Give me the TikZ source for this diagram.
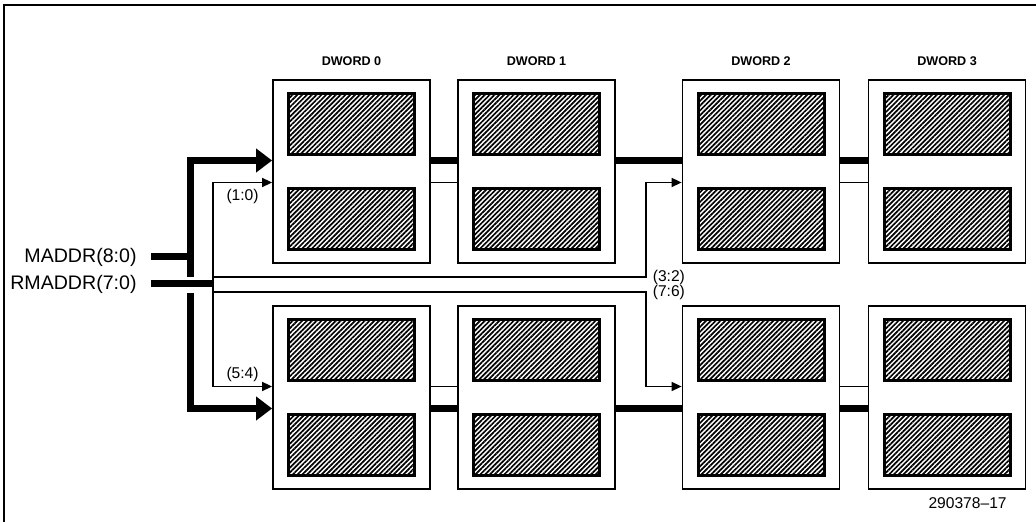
\documentclass[tikz,border=0pt]{standalone}
\usepackage{fontspec}
\setmainfont{Liberation Sans}
\usetikzlibrary{arrows.meta,positioning,patterns.meta}
\tikzset{
 dwordbox/.style={
 rectangle,
 draw,
 line width=0.9pt,
 minimum width=78.5pt,
 minimum height=91.5pt,
 inner sep=0pt
 },
 hatchbox/.style={
 rectangle,
 draw,
 line width=1.5pt,
 minimum width=63pt,
 minimum height=30.5pt,
 inner sep=0pt,
 pattern={Lines[angle=45,distance=1.7pt,line width=0.85pt]}
 },
 colhead/.style={font=\fontsize{6.3}{7}\selectfont\bfseries, inner sep=0pt},
 buslabel/.style={font=\fontsize{9.8}{11}\selectfont, anchor=east, inner sep=0pt, inner xsep=7pt},
 bitlabel/.style={font=\fontsize{7.8}{9}\selectfont, inner sep=1pt},
 busline/.style={line width=3.5pt},
 busarrow/.style={-{Triangle[length=8pt,width=11.5pt]}, line width=3.5pt},
 sigline/.style={line width=0.8pt},
 sigarrow/.style={-{Triangle[length=5pt,width=4.5pt]}, line width=0.8pt}
}
\begin{document}
\begin{tikzpicture}[x=0.5pt,y=-0.5pt]
 \useasboundingbox (0,0) rectangle (1036,522);
 \draw[line width=0.8pt] (4,522) -- (4,5) -- (1036,5);

 % memory blocks
 \foreach \i/\x in {0/351.5,1/536.5,2/761,3/947}{
 \node[dwordbox] (t\i) at (\x,171.5) {};
 \node[dwordbox] (b\i) at (\x,397.5) {};
 \node[hatchbox] (t\i-hi) at ([yshift=23.75pt]t\i.center) {};
 \node[hatchbox] (t\i-lo) at ([yshift=-23.75pt]t\i.center) {};
 \node[hatchbox] (b\i-hi) at ([yshift=23.75pt]b\i.center) {};
 \node[hatchbox] (b\i-lo) at ([yshift=-23.75pt]b\i.center) {};
 \node[colhead, above=6.5pt of t\i] (h\i) {DWORD \i};
 }

 \node[buslabel] (maddr) at (151,257) {MADDR(8:0)};
 \node[buslabel] (rmaddr) at (151,284) {RMADDR(7:0)};
 \coordinate (mtop) at (190,277);
 \coordinate (mbot) at (190,293);
 \coordinate (rj) at (213,284);
 \coordinate (c32) at (646,277);
 \coordinate (c76) at (646,292);

 \draw[busline] (maddr.east) -- (maddr.east -| mtop);
 \draw[busline] (rmaddr.east) -- (rj);
 \draw[busarrow] (mtop) |- ([yshift=5.5pt]t0.west);
 \draw[busarrow] (mbot) |- ([yshift=-5.5pt]b0.west);

 \draw[sigarrow] (rj) |- ([yshift=-5.5pt]t0.west) node[bitlabel, pos=0.75, below=2pt] (l10) {(1:0)};
 \draw[sigarrow] (rj) |- ([yshift=5.5pt]b0.west) node[bitlabel, pos=0.75, above=1pt] (l54) {(5:4)};
 \draw[sigarrow] (rj |- c32) -- (c32) node[bitlabel, right=2pt] (l32) {(3:2)} |- ([yshift=-5.5pt]t2.west);
 \draw[sigarrow] (rj |- c76) -- (c76) node[bitlabel, right=2pt] (l76) {(7:6)} |- ([yshift=5.5pt]b2.west);

 % links between blocks
 \foreach \a/\b in {0/1,1/2,2/3}{
 \draw[busline] ([yshift=5.5pt]t\a.east) -- ([yshift=5.5pt]t\b.west);
 \draw[busline] ([yshift=-5.5pt]b\a.east) -- ([yshift=-5.5pt]b\b.west);
 }
 \foreach \a/\b in {0/1,2/3}{
 \draw[sigline] ([yshift=-5.5pt]t\a.east) -- ([yshift=-5.5pt]t\b.west);
 \draw[sigline] ([yshift=5.5pt]b\a.east) -- ([yshift=5.5pt]b\b.west);
 }

 \node[font=\fontsize{7.8}{9}\selectfont, anchor=east, inner sep=0pt] (figno) at (1007,503) {290378--17};
\end{tikzpicture}
\end{document}
